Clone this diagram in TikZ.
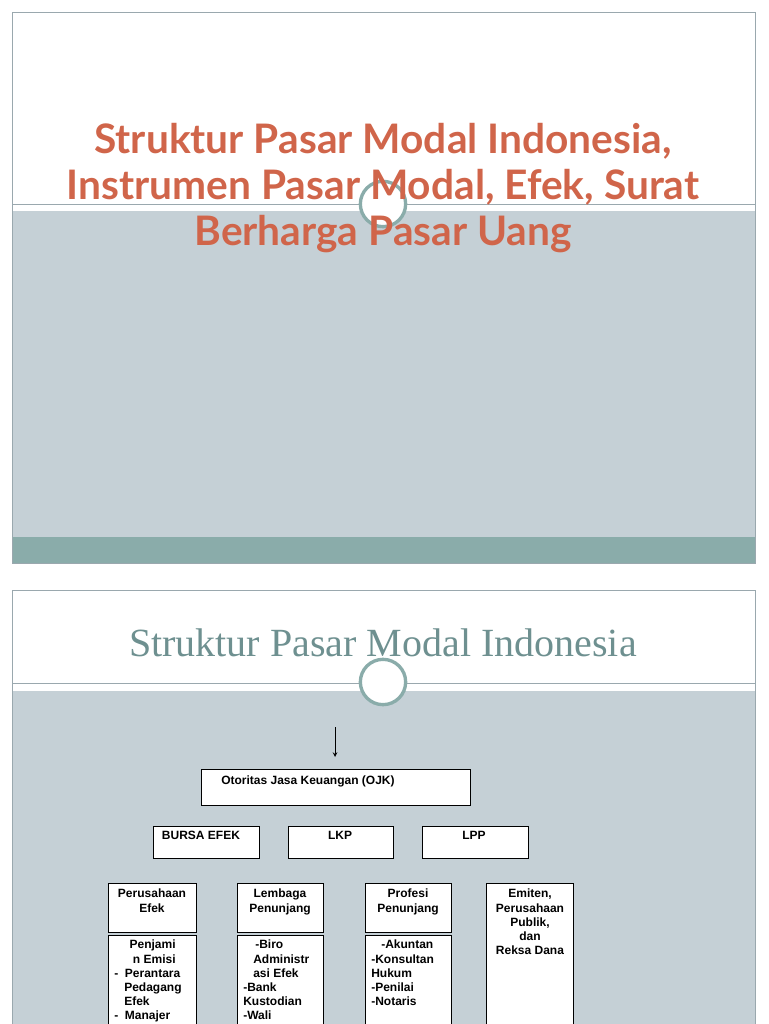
\documentclass[tikz,border=0pt]{standalone}
\usepackage{fontspec}
\setmainfont{Liberation Sans}
\newfontfamily\titlefont{Lato}
\newfontfamily\serifont{Liberation Serif}
\definecolor{slgrey}{HTML}{C5D0D6}
\definecolor{teal}{HTML}{8AACAA}
\definecolor{rim}{HTML}{9AA8AE}
\definecolor{orng}{HTML}{D0654A}
\definecolor{ttl}{HTML}{6E9090}
\begin{document}
\begin{tikzpicture}[x=0.75pt,y=-0.75pt,
  bx/.style={draw=black,fill=white,line width=0.6pt},
  lbl/.style={font=\fontsize{9}{10.6}\selectfont\bfseries,align=center,anchor=north,inner sep=0pt},
  ring/.style={circle,draw=teal,line width=2.5pt,fill=white,minimum size=34pt,inner sep=0pt}]
\useasboundingbox (0,0) rectangle (768,1024);
% slide 1
\fill[slgrey] (12,211) rectangle (755,537);
\fill[teal] (12,537) rectangle (755,563);
\draw[rim,line width=0.6pt] (12,12) rectangle (755,563);
\draw[rim,line width=0.6pt] (12,204) -- (755,204);
\node[ring] (c1) at (383,204) {};
\node[font=\titlefont\fontsize{30.5}{34.8}\selectfont\bfseries,text=orng,align=center] (t1) at (383,188)
 {Struktur Pasar Modal Indonesia,\\Instrumen Pasar Modal, Efek, Surat\\Berharga Pasar Uang};
% slide 2
\fill[slgrey] (12,691) rectangle (755,1030);
\draw[rim,line width=0.6pt] (12,1030) -- (12,590) -- (755,590) -- (755,1030);
\draw[rim,line width=0.6pt] (12,683) -- (755,683);
\node[ring] (c2) at (383,682) {};
\node[font=\serifont\fontsize{30}{34}\selectfont,text=ttl] (t2) at (383,643) {Struktur Pasar Modal Indonesia};
% diagram
\coordinate (a0) at (335,727);
\coordinate (a1) at (335,757);
\draw[-stealth,line width=0.6pt] (a0) -- (a1);
\draw[bx] (201,769) rectangle (470,805);
\node[lbl,anchor=north west] (ojk) at (221,776) {Otoritas Jasa Keuangan (OJK)};
\draw[bx] (153,826) rectangle (259,858);
\node[lbl] (be) at (201,831) {BURSA EFEK};
\draw[bx] (288,826) rectangle (393,858);
\node[lbl] (lkp) at (340,831) {LKP};
\draw[bx] (422,826) rectangle (528,858);
\node[lbl] (lpp) at (474,831) {LPP};
\draw[bx] (108,883) rectangle (196,932);
\node[lbl] (pe) at (152,889) {Perusahaan\\Efek};
\draw[bx] (237,883) rectangle (323,932);
\node[lbl] (lp) at (280,889) {Lembaga\\Penunjang};
\draw[bx] (365,883) rectangle (451,932);
\node[lbl] (pp) at (408,889) {Profesi\\Penunjang};
\draw[bx] (486,883) rectangle (573,1030);
\node[lbl] (em) at (530,889) {Emiten,\\Perusahaan\\Publik,\\dan\\Reksa Dana};
\draw[bx] (108,935) rectangle (196,1030);
\node[lbl,align=left,anchor=north west] (pe2) at (114,940) {\quad\ Penjami\\\quad\ \ n Emisi\\-\ \ Perantara\\\ \ \ Pedagang\\\ \ \ Efek\\-\ \ Manajer};
\draw[bx] (237,935) rectangle (323,1030);
\node[lbl,align=left,anchor=north west] (lp2) at (243,940) {\quad-Biro\\\ \ \ Administr\\\ \ \ asi Efek\\-Bank\\Kustodian\\-Wali};
\draw[bx] (365,935) rectangle (451,1030);
\node[lbl,align=left,anchor=north west] (pp2) at (371,940) {\ \ \ -Akuntan\\-Konsultan\\Hukum\\-Penilai\\-Notaris};
\end{tikzpicture}
\end{document}
